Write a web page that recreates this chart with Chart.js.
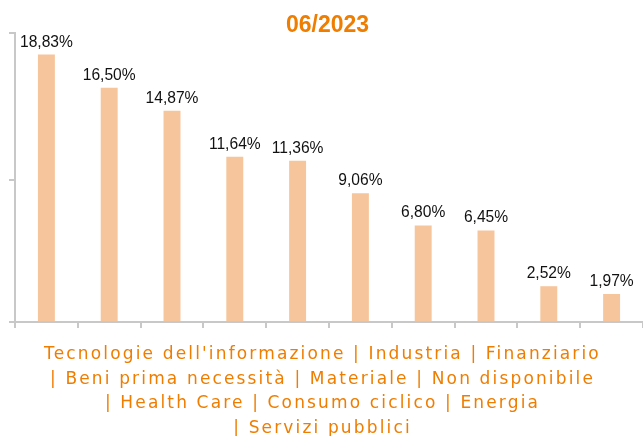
<!DOCTYPE html>
<html>
<head>
<meta charset="utf-8">
<script src="https://cdn.jsdelivr.net/npm/chart.js@4/dist/chart.umd.min.js"></script>
<style>
  html, body { margin: 0; padding: 0; background: #fff; overflow: hidden; }
  #wrap { width: 643px; height: 436px; position: relative; }
</style>
</head>
<body>
<div id="wrap"><canvas id="c" width="643" height="436"></canvas></div>
<script>
const TITLE = '06/2023';
const categories = [
  'Tecnologie dell\'informazione', 'Industria', 'Finanziario',
  'Beni prima necessità', 'Materiale', 'Non disponibile',
  'Health Care', 'Consumo ciclico', 'Energia',
  'Servizi pubblici'
];
const values = [18.83, 16.50, 14.87, 11.64, 11.36, 9.06, 6.80, 6.45, 2.52, 1.97];
const yMax = 20.35;
const yTicks = [0, 10, yMax];
const lineGroups = [3, 3, 3, 1];

const ORANGE = '#EF7D00';
const BAR = '#F6C59B';
const AXIS = '#C8C8C8';

function fmt(v) { return v.toFixed(2).replace('.', ',') + '%'; }

// Build the wrapped category legend lines
const legendLines = [];
{
  let k = 0;
  lineGroups.forEach((n, gi) => {
    const part = categories.slice(k, k + n).join(' | ');
    legendLines.push(gi === 0 ? part : '| ' + part);
    k += n;
  });
}

const valueLabels = {
  id: 'valueLabels',
  afterDatasetsDraw(chart) {
    const ctx = chart.ctx;
    const meta = chart.getDatasetMeta(0);
    ctx.save();
    ctx.font = '15.6px "Liberation Sans", Arial, sans-serif';
    ctx.fillStyle = '#111';
    ctx.textAlign = 'center';
    ctx.textBaseline = 'alphabetic';
    meta.data.forEach((bar, i) => {
      ctx.fillText(fmt(values[i]), bar.x, bar.y - 8);
    });
    ctx.restore();
  }
};

const categoryText = {
  id: 'categoryText',
  afterDraw(chart) {
    const ctx = chart.ctx;
    ctx.save();
    ctx.font = '17px "DejaVu Sans", sans-serif';
    ctx.letterSpacing = '2.15px';
    ctx.fillStyle = ORANGE;
    ctx.textAlign = 'center';
    ctx.textBaseline = 'alphabetic';
    const base = chart.chartArea.bottom + 37;
    legendLines.forEach((t, i) => {
      ctx.fillText(t, chart.width / 2 + 1, base + i * 24.7);
    });
    ctx.restore();
  }
};

Chart.defaults.font.family = '"Liberation Sans", Arial, sans-serif';

new Chart(document.getElementById('c'), {
  type: 'bar',
  data: {
    labels: categories,
    datasets: [{
      data: values,
      backgroundColor: BAR,
      borderWidth: 0,
      categoryPercentage: 1,
      barPercentage: 0.27
    }]
  },
  options: {
    responsive: false,
    animation: false,
    layout: { padding: { left: 9, right: -3, top: 0, bottom: 108 } },
    plugins: {
      legend: { display: false },
      tooltip: { enabled: false },
      title: {
        display: true,
        text: TITLE,
        color: ORANGE,
        font: { size: 23, weight: 'bold', lineHeight: 1 },
        padding: { top: 14.5, bottom: -4.5 }
      }
    },
    scales: {
      x: {
        ticks: { display: false },
        grid: {
          display: true,
          offset: true,
          drawOnChartArea: false,
          drawTicks: true,
          tickLength: 6,
          color: AXIS,
          lineWidth: 2
        },
        border: { display: true, color: AXIS, width: 2 }
      },
      y: {
        min: 0,
        max: yMax,
        afterBuildTicks(scale) { scale.ticks = yTicks.map(v => ({ value: v })); },
        ticks: { display: false },
        grid: {
          display: true,
          drawOnChartArea: false,
          drawTicks: true,
          tickLength: 6,
          color: AXIS,
          lineWidth: 2
        },
        border: { display: true, color: AXIS, width: 2 }
      }
    }
  },
  plugins: [valueLabels, categoryText]
});
</script>
</body>
</html>
